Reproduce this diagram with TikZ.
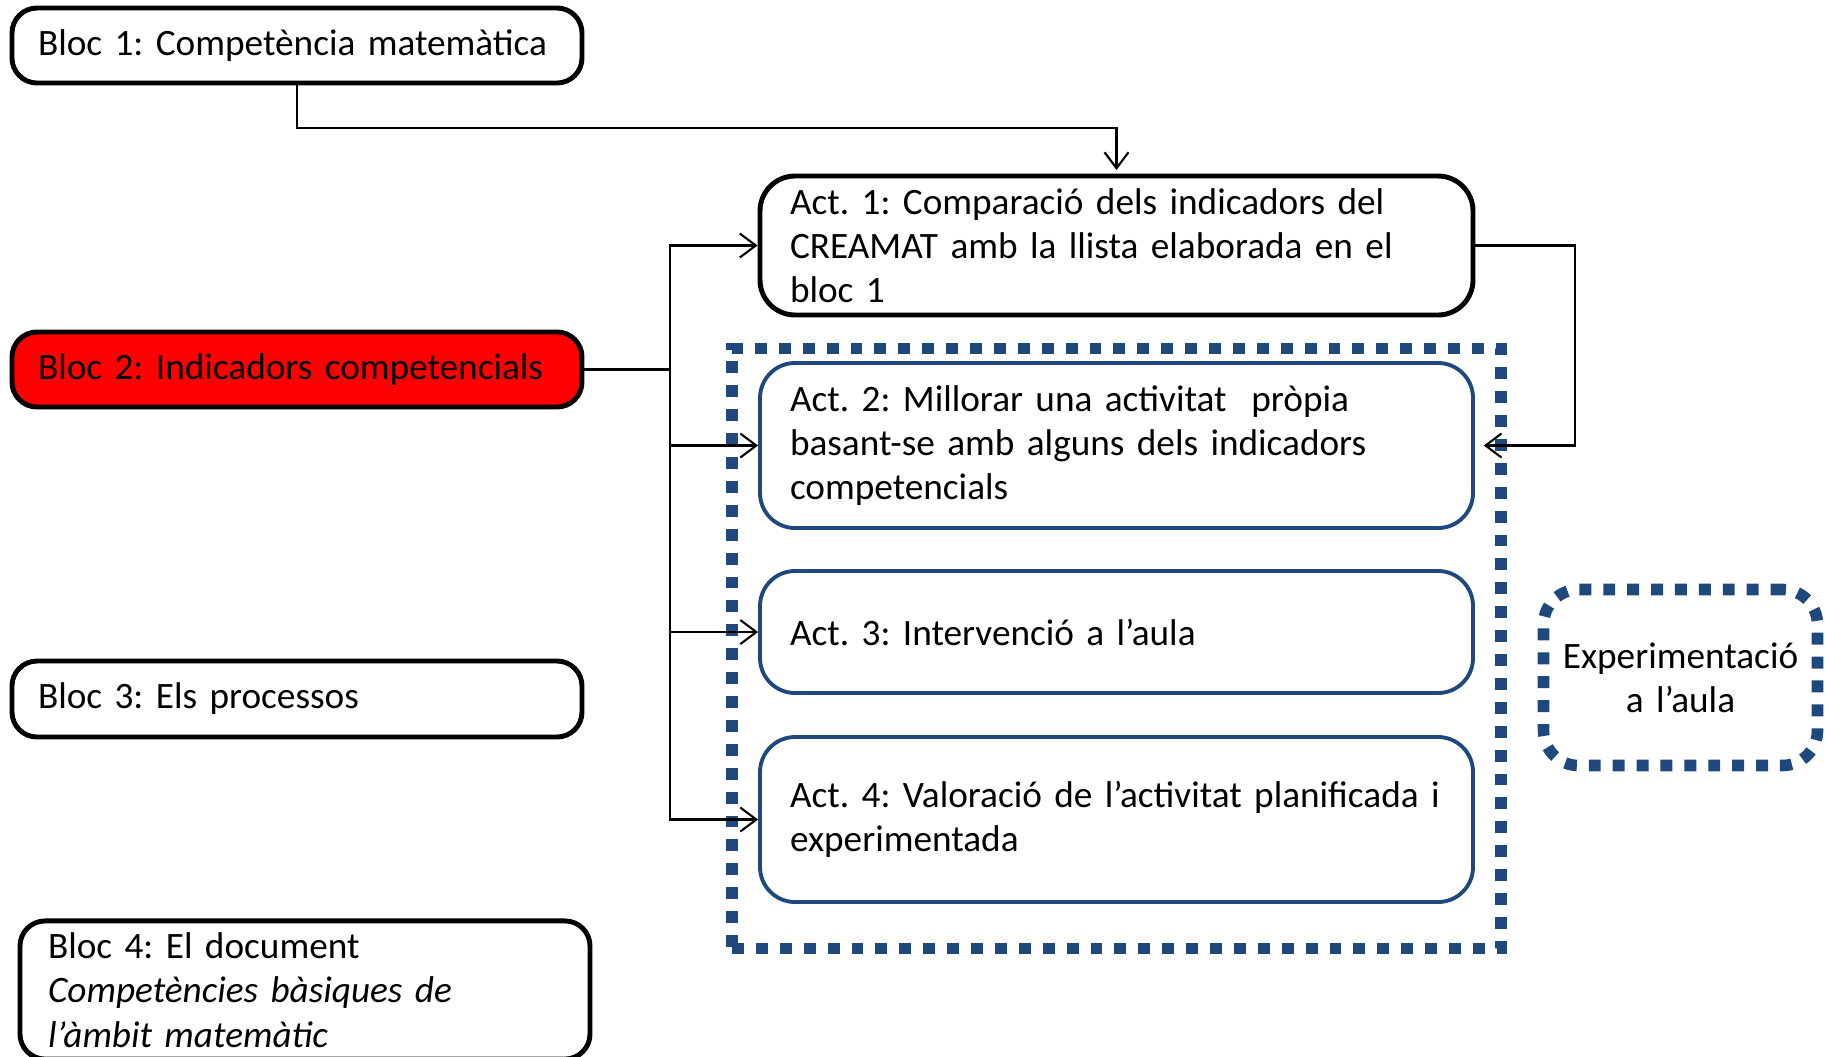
\documentclass[tikz,border=0pt]{standalone}
\usepackage{fontspec}
\setmainfont{Carlito}
\usepackage{tikz}
\usetikzlibrary{positioning}
\usetikzlibrary{arrows.meta}
\usepackage{xcolor}
\definecolor{frameblue}{RGB}{31,73,125}
\frenchspacing
\newcommand{\boxfont}{\fontsize{10.6}{12.6}\selectfont\spaceskip=0.17em plus 0.05em\relax}

\begin{document}
\begin{tikzpicture}[every node/.style={font=\boxfont},
        blocbox/.style={draw, line width=1.4pt, rounded corners=2.5mm, fill=white, align=left, text width=5.18cm, inner xsep=0.26cm, minimum height=0.75cm},
        actbox/.style={draw, line width=1.4pt, rounded corners=3.5mm, fill=white, align=left, text width=6.53cm, inner xsep=0.3cm},
        bluebox/.style={actbox, draw=frameblue, line width=1.1pt},
        dotframe/.style={draw=frameblue, line width=3.3pt, dash pattern=on 3.4pt off 3.4pt},
        link/.style={semithick, -{Straight Barb[length=1.6mm, width=2.4mm]}}]
        \useasboundingbox (0,0) rectangle (18.25,-10.56);
        \clip (0,0) rectangle (18.25,-10.56);

        % blocs
        \node[blocbox] (b1) at (2.97, -0.455) {Bloc 1: Competència matemàtica};
        \node[blocbox, fill=red] (b2) at (2.97, -3.695) {Bloc 2: Indicadors competencials};
        \node[blocbox, minimum height=0.76cm] (b3) at (2.97, -6.99) {Bloc 3: Els processos};
        \node[blocbox, inner xsep=0.28cm, text width=5.14cm, minimum height=1.36cm] (b4) at (3.05, -9.90)
            {Bloc 4: El document\\ \textit{Competències bàsiques de}\\ \textit{l'àmbit matemàtic}};

        % activitats
        \node[dotframe] (frame) at (11.165, -6.485) [minimum width=7.69cm, minimum height=6.0cm, inner sep=0pt] {};
        \node[actbox, minimum height=1.39cm] (a1) at (11.165, -2.455)
            {Act. 1: Comparació dels indicadors del\\ CREAMAT amb la llista elaborada en el\\ bloc 1};
        \node[bluebox, minimum height=1.65cm] (a2) at (11.165, -4.455)
            {Act. 2: Millorar una activitat~ pròpia\\ basant-se amb alguns dels indicadors\\ competencials};
        \node[bluebox, minimum height=1.22cm] (a3) at (11.165, -6.32) {Act. 3: Intervenció a l'aula};
        \node[bluebox, minimum height=1.65cm] (a4) at (11.165, -8.195)
            {Act. 4: Valoració de l'activitat planificada i\\ experimentada};
        \node[dotframe, rounded corners=3.5mm, align=center, text width=2.74cm, inner xsep=0pt, minimum height=1.76cm] (exp) at (16.805, -6.775)
            {Experimentació\\ a l'aula};

        % connexions
        \coordinate (j) at (6.70, -3.695);
        \draw[semithick] (b2.east) -- (j);
        \draw[link] (b1.south) |- (11.165, -1.28) -- ([yshift=1pt]a1.north);
        \draw[link] (j) |- (a1.west);
        \draw[link] (j) |- (a2.west);
        \draw[link] (j) |- (a3.west);
        \draw[link] (j) |- (a4.west);
        \draw[link] (a1.east) -- (15.75, -2.455) |- ([xshift=2.5pt]a2.east);
    \end{tikzpicture}
\end{document}
